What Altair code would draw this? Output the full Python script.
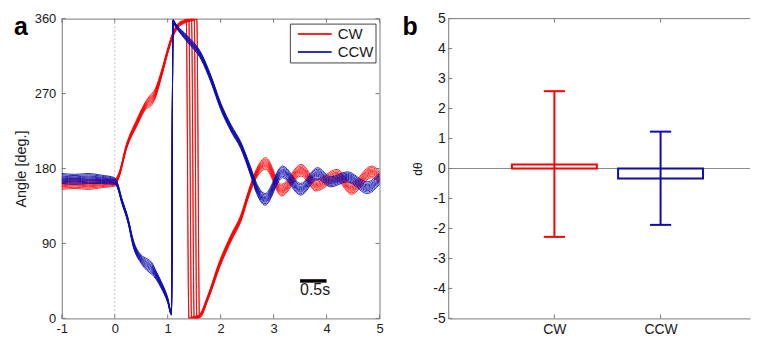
import altair as alt
import pandas as pd

FONT = "Liberation Sans"
AX = "#7a7a7a"
TXT = "#1a1a1a"

# ---------------- Panel a data (angle traces) ----------------
directions = ["CW", "CCW"]
colors = ["#ff0000", "#0d0db0"]

# CW: knot times, unwrapped angle (deg) and bundle half-spread (deg)
cw_t = [-1.0, -0.75, -0.5, -0.25, 0.0, 0.08, 0.22, 0.41, 0.60, 0.68, 0.75, 0.88, 1.00, 1.10,
        1.20, 1.30, 1.35, 1.40, 1.45, 1.50, 1.55, 1.60, 1.76, 1.98, 2.20, 2.38, 2.54, 2.66,
        2.85, 3.15, 3.52, 3.80, 4.20, 4.47, 4.85, 5.0]
cw_angle = [161, 162, 161, 162, 163, 172, 206, 234, 257, 262, 268, 293, 321, 341,
            352, 356, 357.5, 358.5, 359.5, 360.3, 361, 362.5, 385, 425, 457, 480, 512, 532,
            546, 514, 538, 520, 532, 516, 536, 530]
cw_spread = [6, 6, 6, 5, 4, 3, 3, 4, 5, 7, 6, 4, 3, 3,
             2.5, 2, 2, 2, 2, 2, 2, 2, 3, 4, 4, 4, 4, 5,
             7, 7, 7, 7, 7, 7, 7, 7]

# CCW
ccw_t = [-1.0, -0.75, -0.5, -0.25, 0.0, 0.05, 0.13, 0.25, 0.35, 0.50, 0.60, 0.70, 0.78, 0.88,
         1.00, 1.07, 1.10, 1.15, 1.38, 1.63, 1.82, 2.00, 2.20, 2.38, 2.57, 2.68, 2.84, 3.17,
         3.51, 3.83, 4.08, 4.39, 4.77, 5.0]
ccw_angle = [168, 167, 168, 167, 165, 160, 142, 118, 90, 71, 65, 60, 52, 40,
             22, 6, -3, -8, -25, -45, -73, -105, -132, -152, -184, -204, -217, -184,
             -205, -186, -196, -190, -203, -192]
ccw_spread = [6, 6, 6, 5, 4, 3, 3, 3, 4, 5, 7, 7, 5, 4,
              3, 2, 2, 2, 4, 4, 4, 4, 4, 4, 5, 6, 7, 7,
              7, 7, 6, 6, 7, 7]

# relative position of each trial inside the bundle
trial_offsets = [-1.0, -0.75, -0.5, -0.3, -0.1, 0.1, 0.3, 0.5, 0.75, 1.0]

x_ticks = [-1, 0, 1, 2, 3, 4, 5]
y_ticks = [0, 90, 180, 270, 360]
onset_t = [0]
scalebar_t = [3.5]
scalebar_t2 = [4.0]
scalebar_angle = [45]
scalebar_label = ["0.5s"]
scalebar_label_angle = [34]

# ---------------- Panel b data ----------------
b_categories = ["CW", "CCW"]
b_positions = [1, 2]
b_means = [0.13, -0.33]
b_lows = [-2.28, -1.88]
b_highs = [2.58, 1.23]
b_y_ticks = [-5, -4, -3, -2, -1, 0, 1, 2, 3, 4, 5]


def trials(direction, ts, angles, spreads):
    rows = []
    for i, k in enumerate(trial_offsets):
        for t, a, s in zip(ts, angles, spreads):
            rows.append({"t": t, "angle": (a + k * s) % 360, "dir": direction,
                         "trial": f"{direction}{i}"})
    return pd.DataFrame(rows)


cw_df = trials("CW", cw_t, cw_angle, cw_spread)
ccw_df = trials("CCW", ccw_t, ccw_angle, ccw_spread)

W_A, H = 319, 301
W_B = 303
XB_MAX = W_B / 106.6
PLAIN = "datum.value + ''"

xs = alt.Scale(domain=[-1, 5], nice=False, zero=False)
ys = alt.Scale(domain=[0, 360], nice=False, zero=False)
x_axis = alt.Axis(values=x_ticks, title=None, grid=False, tickSize=0, domain=False,
                  labelFontSize=13, labelFont=FONT, labelColor=TXT, labelPadding=4,
                  labelFlush=False, labelOverlap=False, labelExpr=PLAIN)
y_axis = alt.Axis(values=y_ticks, title="Angle [deg.]", grid=False, tickSize=0, domain=False,
                  labelFontSize=13, labelFont=FONT, labelColor=TXT, labelPadding=6,
                  labelFlush=False, labelOverlap=False, labelExpr=PLAIN,
                  titleFont=FONT, titleFontSize=14.5, titleFontWeight="normal",
                  titleColor=TXT, titlePadding=6)

X = lambda f: alt.X(f, scale=xs, axis=x_axis)
Y = lambda f: alt.Y(f, scale=ys, axis=y_axis)

legend = alt.Legend(title=None, orient="none", legendX=229, legendY=5, direction="vertical",
                    strokeColor="#444", fillColor="white", padding=2, symbolType="stroke",
                    symbolSize=1150, symbolStrokeWidth=2, symbolOffset=5, clipHeight=17,
                    labelFontSize=15, labelFont=FONT, labelColor=TXT, rowPadding=1,
                    labelOffset=5)
color = alt.Color("dir:N", scale=alt.Scale(domain=directions, range=colors), legend=legend)

onset = alt.Chart(pd.DataFrame({"t": onset_t})).mark_rule(
    color="#b5b5b5", strokeWidth=1, strokeDash=[1.5, 2.5]).encode(x=X("t:Q"))

cw_lines = alt.Chart(cw_df).mark_line(strokeWidth=1, interpolate="monotone", opacity=0.85).encode(
    x=X("t:Q"), y=Y("angle:Q"), color=color, detail="trial:N")
ccw_lines = alt.Chart(ccw_df).mark_line(strokeWidth=1, interpolate="monotone", opacity=0.9).encode(
    x=X("t:Q"), y=Y("angle:Q"), color=color, detail="trial:N")

bar_df = pd.DataFrame({"t": scalebar_t, "t2": scalebar_t2, "angle": scalebar_angle})
scalebar = alt.Chart(bar_df).mark_rule(color="black", strokeWidth=3.5).encode(
    x=X("t:Q"), x2="t2:Q", y=Y("angle:Q"))
lab_df = pd.DataFrame({"t": scalebar_t, "angle": scalebar_label_angle, "lab": scalebar_label})
scalelab = alt.Chart(lab_df).mark_text(align="left", baseline="middle", fontSize=16, font=FONT,
                                       color=TXT).encode(x=X("t:Q"), y=Y("angle:Q"), text="lab:N")

xt_df = pd.DataFrame({"t": x_ticks})
yt_df = pd.DataFrame({"angle": y_ticks})
tick_a = [
    alt.Chart(xt_df).mark_rule(color=AX).encode(x=X("t:Q"), y=alt.value(H - 4), y2=alt.value(H)),
    alt.Chart(xt_df).mark_rule(color=AX).encode(x=X("t:Q"), y=alt.value(0), y2=alt.value(4)),
    alt.Chart(yt_df).mark_rule(color=AX).encode(y=Y("angle:Q"), x=alt.value(0), x2=alt.value(4)),
    alt.Chart(yt_df).mark_rule(color=AX).encode(y=Y("angle:Q"), x=alt.value(W_A - 4), x2=alt.value(W_A)),
]

label_a = alt.Chart(pd.DataFrame({"lab": ["a"]})).mark_text(
    align="left", baseline="alphabetic", fontSize=25, fontWeight="bold", font=FONT, color="black"
).encode(x=alt.value(-48), y=alt.value(16), text="lab:N")

panel_a = alt.layer(onset, cw_lines, ccw_lines, scalebar, scalelab, *tick_a, label_a).properties(
    width=W_A, height=H, view=alt.ViewBackground(stroke=AX, strokeWidth=1))

# ---------------- Panel b ----------------
label_expr = " : ".join(
    f"datum.value == {p} ? '{c}'" for p, c in zip(b_positions, b_categories)) + " : ''"
xbs = alt.Scale(domain=[0, XB_MAX], nice=False, zero=False)
ybs = alt.Scale(domain=[-5, 5], nice=False, zero=False)
xb_axis = alt.Axis(values=b_positions, labelExpr=label_expr, title=None, grid=False, tickSize=0,
                   domainColor=AX, labelFontSize=14, labelFont=FONT, labelColor=TXT,
                   labelPadding=4, labelFlush=False)
yb_axis = alt.Axis(values=b_y_ticks, title="dθ", grid=False, tickSize=0, domainColor=AX,
                   labelFontSize=14, labelFont=FONT, labelColor=TXT, labelPadding=3,
                   labelFlush=False, labelOverlap=False, labelExpr=PLAIN,
                   titleFont=FONT, titleFontSize=12, titleFontWeight="normal", titleColor=TXT,
                   titlePadding=8)
XB = lambda f: alt.X(f, scale=xbs, axis=xb_axis)
YB = lambda f: alt.Y(f, scale=ybs, axis=yb_axis)

b_df = pd.DataFrame({"cat": b_categories, "pos": b_positions, "mean": b_means,
                     "low": b_lows, "high": b_highs})
stroke = alt.Stroke("cat:N", scale=alt.Scale(domain=b_categories, range=colors), legend=None)

zero_line = alt.Chart(pd.DataFrame({"v": [0]})).mark_rule(color="#8a8a8a", strokeWidth=1).encode(
    y=YB("v:Q"), x=alt.value(0), x2=alt.value(W_B))
top_line = alt.Chart(pd.DataFrame({"v": [5]})).mark_rule(color=AX, strokeWidth=1).encode(
    y=YB("v:Q"), x=alt.value(0), x2=alt.value(W_B))

bars = alt.Chart(b_df).transform_calculate(
    x1="datum.pos - 0.4", x2="datum.pos + 0.4", zero="0"
).mark_rect(filled=False, strokeWidth=2).encode(
    x=XB("x1:Q"), x2="x2:Q", y=YB("zero:Q"), y2="mean:Q", stroke=stroke)
whisk = alt.Chart(b_df).mark_rule(strokeWidth=2).encode(
    x=XB("pos:Q"), y=YB("low:Q"), y2="high:Q", stroke=stroke)
cap_hi = alt.Chart(b_df).transform_calculate(c1="datum.pos - 0.1", c2="datum.pos + 0.1").mark_rule(
    strokeWidth=2).encode(x=XB("c1:Q"), x2="c2:Q", y=YB("high:Q"), stroke=stroke)
cap_lo = alt.Chart(b_df).transform_calculate(c1="datum.pos - 0.1", c2="datum.pos + 0.1").mark_rule(
    strokeWidth=2).encode(x=XB("c1:Q"), x2="c2:Q", y=YB("low:Q"), stroke=stroke)

xbt_df = pd.DataFrame({"pos": b_positions})
ybt_df = pd.DataFrame({"v": b_y_ticks})
tick_b = [
    alt.Chart(xbt_df).mark_rule(color=AX).encode(x=XB("pos:Q"), y=alt.value(H - 4), y2=alt.value(H)),
    alt.Chart(xbt_df).mark_rule(color=AX).encode(x=XB("pos:Q"), y=alt.value(0), y2=alt.value(4)),
    alt.Chart(ybt_df).mark_rule(color=AX).encode(y=YB("v:Q"), x=alt.value(0), x2=alt.value(4)),
]

label_b = alt.Chart(pd.DataFrame({"lab": ["b"]})).mark_text(
    align="left", baseline="alphabetic", fontSize=25, fontWeight="bold", font=FONT, color="black"
).encode(x=alt.value(-46), y=alt.value(16), text="lab:N")

panel_b = alt.layer(zero_line, top_line, bars, whisk, cap_hi, cap_lo, *tick_b, label_b).properties(
    width=W_B, height=H, view=alt.ViewBackground(stroke="transparent"))

chart = alt.hconcat(panel_a, panel_b, spacing=17).properties(
    padding={"left": 4, "top": 2, "right": 0, "bottom": 0}
).resolve_scale(color="independent", stroke="independent").resolve_legend(
    color="independent", stroke="independent"
).configure(background="white")

chart.save("out.html", embed_options={"renderer": "svg", "actions": False})
